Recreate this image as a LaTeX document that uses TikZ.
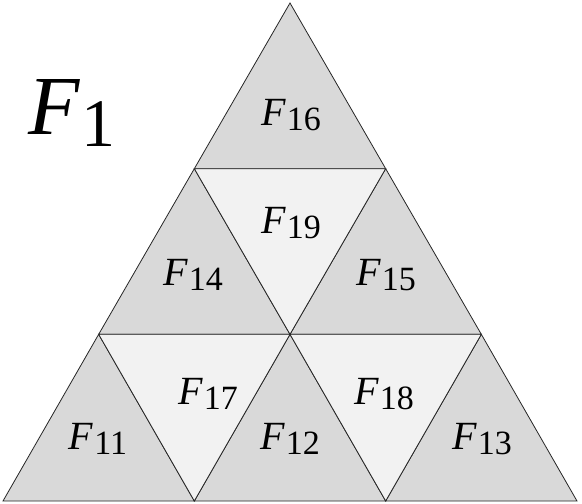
\documentclass[tikz,border=0pt]{standalone}
\usepackage{fontspec}
\setmainfont{Liberation Serif}
\definecolor{upgray}{HTML}{D9D9D9}
\definecolor{downgray}{HTML}{F2F2F2}
\newcommand{\flab}[1]{\textit{F}\kern0.02em\raisebox{-0.3ex}{\fontsize{34}{34}\selectfont #1}}
\begin{document}
\begin{tikzpicture}[x=1pt,y=-1pt,
  up/.style={fill=upgray,draw=black!85,line width=0.8pt,line join=miter},
  down/.style={fill=downgray,draw=black!85,line width=0.8pt},
  lab/.style={font=\fontsize{40}{40}\selectfont,inner sep=0pt}]
\useasboundingbox (0,0) rectangle (582,504);
% vertices
\coordinate (t) at (290,3);
\coordinate (a1) at (194.33,168.67); \coordinate (b1) at (385.67,168.67);
\coordinate (a2) at (98.67,334.33); \coordinate (b2) at (290,334.33); \coordinate (c2) at (481.33,334.33);
\coordinate (a3) at (3,501); \coordinate (b3) at (194.33,501); \coordinate (c3) at (385.67,501); \coordinate (d3) at (577,501);
% up triangles
\draw[up] (t) -- (a1) -- (b1) -- cycle;
\draw[up] (a1) -- (a2) -- (b2) -- cycle;
\draw[up] (b1) -- (b2) -- (c2) -- cycle;
\draw[up] (a2) -- (a3) -- (b3) -- cycle;
\draw[up] (b2) -- (b3) -- (c3) -- cycle;
\draw[up] (c2) -- (c3) -- (d3) -- cycle;
% down triangles
\draw[down] (a1) -- (b1) -- (b2) -- cycle;
\draw[down] (a2) -- (b2) -- (b3) -- cycle;
\draw[down] (b2) -- (c2) -- (c3) -- cycle;
% labels
\node[lab] (F16) at (291,115) {\flab{16}};
\node[lab] (F19) at (291,223) {\flab{19}};
\node[lab] (F14) at (193,275) {\flab{14}};
\node[lab] (F15) at (386,275) {\flab{15}};
\node[lab] (F17) at (208,394) {\flab{17}};
\node[lab] (F18) at (384,394) {\flab{18}};
\node[lab] (F11) at (98,439) {\flab{11}};
\node[lab] (F12) at (290,439) {\flab{12}};
\node[lab] (F13) at (482,439) {\flab{13}};
\node[inner sep=0pt,font=\fontsize{84}{84}\selectfont] (F1) at (72,113) {\textit{F}\kern0.02em\raisebox{-0.3ex}{\fontsize{68}{68}\selectfont 1}};
\end{tikzpicture}
\end{document}
